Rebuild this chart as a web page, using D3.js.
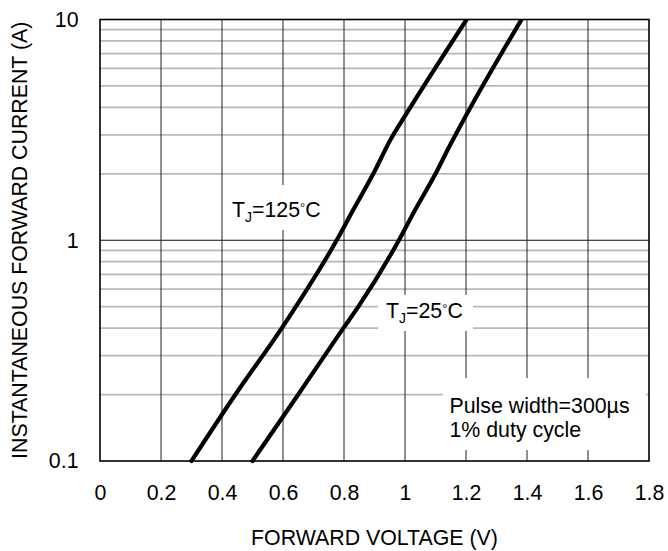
<!DOCTYPE html>
<html>
<head>
<meta charset="utf-8">
<script src="https://cdn.jsdelivr.net/npm/d3@7"></script>
<style>
  html, body { margin: 0; padding: 0; background: #fff; }
  svg { display: block; font-family: "Liberation Sans", Arial, sans-serif; }
</style>
</head>
<body>
<svg id="chart" width="668" height="551"></svg>
<script>
// ---- data ----
const xTickValues = [0, 0.2, 0.4, 0.6, 0.8, 1.0, 1.2, 1.4, 1.6, 1.8];
const xTickLabels = ["0", "0.2", "0.4", "0.6", "0.8", "1", "1.2", "1.4", "1.6", "1.8"];
const yTickValues = [0.1, 1, 10];
const yTickLabels = ["0.1", "1", "10"];
const yMinorValues = [0.2, 0.3, 0.4, 0.5, 0.6, 0.7, 0.8, 0.9, 2, 3, 4, 5, 6, 7, 8, 9];

const v125 = [0.30, 0.444, 0.596, 0.776, 0.83, 0.896, 0.955, 1.00, 1.202];
const i125 = [0.1, 0.2, 0.4, 1.0, 1.37, 2.0, 2.9, 3.66, 10];
const v25 = [0.50, 0.65, 0.798, 0.847, 0.98, 1.033, 1.10, 1.14, 1.20, 1.382];
const i25 = [0.1, 0.2, 0.4, 0.5, 1.0, 1.37, 2.0, 2.57, 3.67, 10];

const xTitle = "FORWARD VOLTAGE (V)";
const yTitle = "INSTANTANEOUS FORWARD CURRENT (A)";
const noteLines = ["Pulse width=300\u00B5s", "1% duty cycle"];

// ---- layout ----
const L = 100, R = 649, T = 19.5, B = 461;
const FS = 21.33;
const svg = d3.select("#chart");
const x = d3.scaleLinear().domain([0, 1.8]).range([L, R]);
const y = d3.scaleLog().domain([0.1, 10]).range([B, T]);

// minor horizontal grid
svg.append("g").selectAll("line").data(yMinorValues).join("line")
  .attr("x1", L).attr("x2", R)
  .attr("y1", d => y(d)).attr("y2", d => y(d))
  .attr("stroke", "#b8b8b8").attr("stroke-width", 1.8);

// major horizontal (1)
svg.append("line").attr("x1", L).attr("x2", R).attr("y1", y(1)).attr("y2", y(1))
  .attr("stroke", "#111").attr("stroke-width", 1);

// vertical grid
svg.append("g").selectAll("line").data(xTickValues.slice(1, -1)).join("line")
  .attr("x1", d => x(d)).attr("x2", d => x(d))
  .attr("y1", T).attr("y2", B)
  .attr("stroke", "#222").attr("stroke-width", 1);

// white label boxes (cover grid)
const boxes = [
  {x0: 224, x1: 329, y0: 185, y1: 230},
  {x0: 378, x1: 473, y0: 295, y1: 331},
  {x0: 443, x1: 646, y0: 378, y1: 450}
];
svg.append("g").selectAll("rect").data(boxes).join("rect")
  .attr("x", d => d.x0).attr("y", d => d.y0)
  .attr("width", d => d.x1 - d.x0).attr("height", d => d.y1 - d.y0)
  .attr("fill", "#fff");

// border
svg.append("rect").attr("x", L).attr("y", T).attr("width", R - L).attr("height", B - T)
  .attr("fill", "none").attr("stroke", "#000").attr("stroke-width", 1.6);

// curves
svg.append("defs").append("clipPath").attr("id", "clip")
  .append("rect").attr("x", L).attr("y", T).attr("width", R - L).attr("height", 40 + B - T);
const line = d3.line().x(d => x(d[0])).y(d => y(d[1])).curve(d3.curveMonotoneX);
[[v125, i125], [v25, i25]].forEach(([vs, is]) => {
  svg.append("path").datum(vs.map((v, k) => [v, is[k]]))
    .attr("d", line).attr("fill", "none").attr("stroke", "#000")
    .attr("stroke-width", 4.2).attr("stroke-linecap", "round")
    .attr("clip-path", "url(#clip)");
});

// axes
const xAxis = d3.axisBottom(x).tickValues(xTickValues)
  .tickFormat((d, k) => xTickLabels[k]).tickSize(0).tickPadding(24);
const gx = svg.append("g").attr("transform", `translate(0,${B})`).call(xAxis);
gx.select(".domain").remove();
gx.selectAll("text").attr("font-size", FS).attr("fill", "#000")
  .attr("font-family", "Liberation Sans, Arial, sans-serif");

const yAxis = d3.axisLeft(y).tickValues(yTickValues)
  .tickFormat((d, k) => yTickLabels[k]).tickSize(0).tickPadding(21.5);
const gy = svg.append("g").attr("transform", `translate(${L},0)`).call(yAxis);
gy.select(".domain").remove();
gy.selectAll("text").attr("font-size", FS).attr("fill", "#000")
  .attr("font-family", "Liberation Sans, Arial, sans-serif");

// titles
svg.append("text").attr("x", (L + R) / 2).attr("y", 545)
  .attr("text-anchor", "middle").attr("font-size", FS).text(xTitle);
svg.append("text").attr("transform", `translate(26.5,${(T + B) / 2}) rotate(-90)`)
  .attr("text-anchor", "middle").attr("font-size", FS).text(yTitle);

// curve labels
function tjLabel(x0, yb, temp) {
  const t = svg.append("text").attr("x", x0).attr("y", yb).attr("font-size", FS);
  t.append("tspan").text("T");
  t.append("tspan").attr("font-size", 14).attr("dy", 5).text("J");
  t.append("tspan").attr("dy", -5).text("=" + temp);
  t.append("tspan").attr("font-size", 13).attr("dy", -5).text("\u00B0");
  t.append("tspan").attr("dy", 5).text("C");
}
tjLabel(232, 216.5, "125");
tjLabel(386, 318, "25");

// note
noteLines.forEach((s, k) => {
  svg.append("text").attr("x", 449.5).attr("y", 412.7 + k * 24)
    .attr("font-size", FS).text(s);
});
</script>
</body>
</html>
